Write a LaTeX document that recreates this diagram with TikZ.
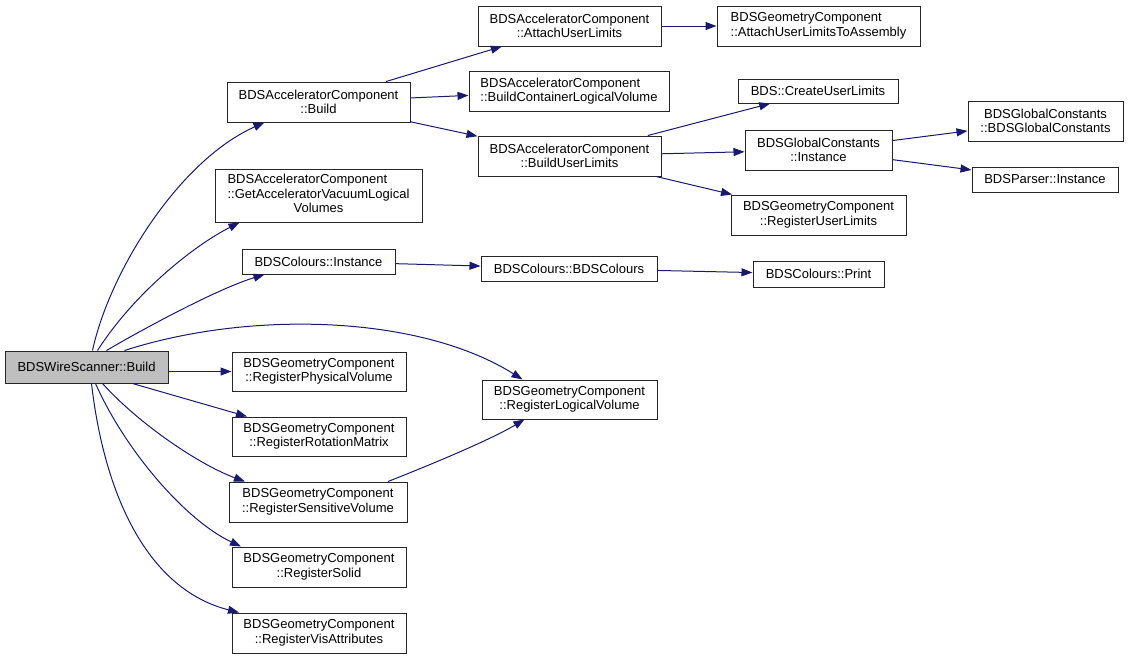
\documentclass[tikz,border=0pt]{standalone}
\usepackage{fontspec}
\setmainfont{Liberation Sans}
\usetikzlibrary{arrows.meta}
\definecolor{edgeblue}{HTML}{191970}
\definecolor{wsgray}{HTML}{BFBFBF}
\newcommand{\threel}[3]{\begin{tabular}{@{}l@{}}#1\\#2\\\multicolumn{1}{@{}c@{}}{#3}\end{tabular}}
\begin{document}
\begin{tikzpicture}[x=1pt,y=-1pt,
  box/.style={draw=black!85, line width=1pt, fill=white, inner sep=0pt, align=center,
    font=\fontsize{13}{14.5}\selectfont},
  edge/.style={draw=edgeblue, line width=1pt, -{Triangle[length=11pt,width=8pt]}}]
\useasboundingbox (0,0) rectangle (1128,659);
% nodes
\node[box, fill=wsgray, minimum width=163pt, minimum height=32pt] (ws) at (86.5,367) {BDSWireScanner::Build};
\node[box, minimum width=183pt, minimum height=40pt] (accbuild) at (318.5,102) {BDSAcceleratorComponent\\::Build};
\node[box, minimum width=183pt, minimum height=40pt] (attach) at (569.5,26) {BDSAcceleratorComponent\\::AttachUserLimits};
\node[box, align=left, minimum width=203pt, minimum height=40pt] (attachasm) at (818.5,26) {BDSGeometryComponent\\::AttachUserLimitsToAssembly};
\node[box, align=left, minimum width=200pt, minimum height=40pt] (container) at (569,91) {BDSAcceleratorComponent\\::BuildContainerLogicalVolume};
\node[box, minimum width=183pt, minimum height=40pt] (buildul) at (569.5,156) {BDSAcceleratorComponent\\::BuildUserLimits};
\node[box, minimum width=207pt, minimum height=53pt] (getacc) at (318.5,195.5) {\threel{BDSAcceleratorComponent}{::GetAcceleratorVacuumLogical}{Volumes}};
\node[box, minimum width=160pt, minimum height=24pt] (create) at (818,91) {BDS::CreateUserLimits};
\node[box, minimum width=147pt, minimum height=40pt] (gcinst) at (818.5,150) {BDSGlobalConstants\\::Instance};
\node[box, minimum width=175pt, minimum height=40pt] (reguserlim) at (818.5,215) {BDSGeometryComponent\\::RegisterUserLimits};
\node[box, minimum width=155pt, minimum height=40pt] (gcgc) at (1045.5,121) {BDSGlobalConstants\\::BDSGlobalConstants};
\node[box, minimum width=146pt, minimum height=25pt] (parser) at (1045,179.5) {BDSParser::Instance};
\node[box, minimum width=153pt, minimum height=25pt] (colinst) at (318.5,261.5) {BDSColours::Instance};
\node[box, minimum width=176pt, minimum height=25pt] (colbds) at (569,268.5) {BDSColours::BDSColours};
\node[box, minimum width=131pt, minimum height=26pt] (colprint) at (818.5,274) {BDSColours::Print};
\node[box, minimum width=174pt, minimum height=39pt] (regphys) at (319,371.5) {BDSGeometryComponent\\::RegisterPhysicalVolume};
\node[box, minimum width=175pt, minimum height=39pt] (reglog) at (569.5,399.5) {BDSGeometryComponent\\::RegisterLogicalVolume};
\node[box, minimum width=174pt, minimum height=39pt] (regrot) at (319,436.5) {BDSGeometryComponent\\::RegisterRotationMatrix};
\node[box, minimum width=178pt, minimum height=40pt] (regsens) at (318,502) {BDSGeometryComponent\\::RegisterSensitiveVolume};
\node[box, minimum width=174pt, minimum height=40pt] (regsolid) at (319,567) {BDSGeometryComponent\\::RegisterSolid};
\node[box, minimum width=174pt, minimum height=40pt] (regvis) at (319,633) {BDSGeometryComponent\\::RegisterVisAttributes};
% edges from WireScanner
\draw[edge] ([xshift=6pt]ws.north) .. controls (110,270) and (180,160) .. ([xshift=-54pt]accbuild.south);
\draw[edge] ([xshift=11pt]ws.north) .. controls (135,292) and (195,245) .. ([xshift=-79pt]getacc.south);
\draw[edge] ([xshift=20pt]ws.north) .. controls (150,325) and (220,288) .. ([xshift=-54pt]colinst.south);
\draw[edge] ([xshift=38pt]ws.north) .. controls (250,310) and (420,315) .. ([xshift=-47pt]reglog.north);
\draw[edge] (ws.east |- regphys.west) -- (regphys.west);
\draw[edge] ([xshift=46pt]ws.south) -- ([xshift=-72pt]regrot.north);
\draw[edge] ([xshift=16pt]ws.south) .. controls (140,425) and (200,465) .. ([xshift=-73pt]regsens.north);
\draw[edge] ([xshift=9pt]ws.south) .. controls (125,450) and (185,520) .. ([xshift=-78pt]regsolid.north);
\draw[edge] ([xshift=5pt]ws.south) .. controls (105,500) and (150,590) .. ([xshift=-80pt]regvis.north);
\draw[edge] ([xshift=70pt]regsens.north) .. controls (430,465) and (490,440) .. ([xshift=-45pt]reglog.south);
% other edges
\draw[edge] (accbuild) -- (attach);
\draw[edge] (accbuild) -- (container);
\draw[edge] (accbuild) -- (buildul);
\draw[edge] (attach) -- (attachasm);
\draw[edge] (buildul) -- (create);
\draw[edge] (buildul) -- (gcinst);
\draw[edge] (buildul) -- (reguserlim);
\draw[edge] (gcinst) -- (gcgc);
\draw[edge] (gcinst) -- (parser);
\draw[edge] (colinst) -- (colbds);
\draw[edge] (colbds) -- (colprint);
\end{tikzpicture}
\end{document}
